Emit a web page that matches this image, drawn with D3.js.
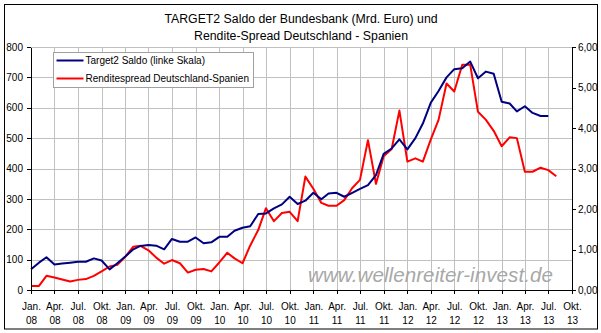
<!DOCTYPE html>
<html>
<head>
<meta charset="utf-8">
<script src="https://cdn.jsdelivr.net/npm/d3@7"></script>
<style>
  html, body { margin: 0; padding: 0; background: #fff; }
  svg { display: block; font-family: "Liberation Sans", Arial, sans-serif; }
</style>
</head>
<body>
<svg id="chart" width="601" height="333"></svg>
<script>
// Monthly observations, Jan 2008 onwards
const months = [
  "2008-01","2008-02","2008-03","2008-04","2008-05","2008-06","2008-07","2008-08","2008-09","2008-10","2008-11","2008-12",
  "2009-01","2009-02","2009-03","2009-04","2009-05","2009-06","2009-07","2009-08","2009-09","2009-10","2009-11","2009-12",
  "2010-01","2010-02","2010-03","2010-04","2010-05","2010-06","2010-07","2010-08","2010-09","2010-10","2010-11","2010-12",
  "2011-01","2011-02","2011-03","2011-04","2011-05","2011-06","2011-07","2011-08","2011-09","2011-10","2011-11","2011-12",
  "2012-01","2012-02","2012-03","2012-04","2012-05","2012-06","2012-07","2012-08","2012-09","2012-10","2012-11","2012-12",
  "2013-01","2013-02","2013-03","2013-04","2013-05","2013-06","2013-07","2013-08"
];

// TARGET2 balance of the Bundesbank, bn EUR (left scale)
const target2Saldo = [
  68, 90, 108, 84, 87, 90, 93, 93, 104, 97, 68, 88,
  110, 134, 145, 148, 146, 134, 168, 159, 159, 173, 154, 157,
  175, 175, 195, 205, 210, 250, 252, 269, 282, 307, 283, 294,
  320, 299, 318, 320, 307, 320, 333, 345, 378, 448, 466, 496,
  463, 500, 548, 617, 655, 700, 727, 730, 752, 697, 719, 712,
  620, 614, 588, 605, 583, 573, 573
];

// Yield spread Germany - Spain, percentage points (right scale)
const renditeSpread = [
  0.10, 0.10, 0.35, 0.31, 0.26, 0.21, 0.25, 0.27, 0.35, 0.46, 0.58, 0.62,
  0.82, 1.07, 1.09, 0.98, 0.80, 0.65, 0.74, 0.66, 0.43, 0.50, 0.52, 0.46,
  0.68, 0.92, 0.78, 0.66, 1.10, 1.48, 2.02, 1.70, 1.90, 1.93, 1.70, 2.80,
  2.50, 2.15, 2.08, 2.08, 2.22, 2.52, 2.72, 3.70, 2.62, 3.30, 3.48, 4.43,
  3.17, 3.25, 3.17, 3.72, 4.20, 5.10, 4.90, 5.56, 5.56, 4.40, 4.20, 3.93,
  3.55, 3.77, 3.75, 2.92, 2.92, 3.02, 2.96, 2.81
];

const leftTicks = [0, 100, 200, 300, 400, 500, 600, 700, 800];
const rightTicks = [0, 1, 2, 3, 4, 5, 6];
const quarterNames = ["Jan.", "Apr.", "Jul.", "Okt."];
const axisStart = "2008-01";
const axisEnd = "2013-10";

const titleLines = [
  "TARGET2 Saldo der Bundesbank (Mrd. Euro) und",
  "Rendite-Spread Deutschland - Spanien"
];
const legendLabels = ["Target2 Saldo (linke Skala)", "Renditespread Deutschland-Spanien"];
const watermark = "www.wellenreiter-invest.de";

const parse = d3.timeParse("%Y-%m");
const svg = d3.select("#chart");

const plot = { left: 31, right: 572, top: 47, bottom: 290 };

const x = d3.scaleTime()
  .domain([parse(axisStart), parse(axisEnd)])
  .range([plot.left, plot.right]);
const yL = d3.scaleLinear().domain([0, 800]).range([plot.bottom, plot.top]);
const yR = d3.scaleLinear().domain([0, 6]).range([plot.bottom, plot.top]);

const quarterTicks = d3.timeMonth.every(3).range(parse(axisStart), d3.timeMonth.offset(parse(axisEnd), 1));

// outer frame
svg.append("rect")
  .attr("x", 4.5).attr("y", 4.5).attr("width", 593).attr("height", 324.5)
  .attr("fill", "#fff").attr("stroke", "#000").attr("stroke-width", 1);

// title
svg.append("g").selectAll("text").data(titleLines).join("text")
  .attr("x", 301).attr("y", (d, i) => 23 + i * 17)
  .attr("text-anchor", "middle")
  .attr("font-size", "12.3px")
  .attr("fill", "#000")
  .text(d => d);

// gridlines
const grid = svg.append("g").attr("stroke", "#c0c0c0").attr("stroke-width", 1).attr("shape-rendering", "crispEdges");
grid.selectAll("line.h").data(leftTicks.filter(d => d > 0)).join("line")
  .attr("x1", plot.left).attr("x2", plot.right)
  .attr("y1", d => Math.round(yL(d)) + 0.5).attr("y2", d => Math.round(yL(d)) + 0.5);
grid.selectAll("line.v").data(quarterTicks.slice(1, -1)).join("line")
  .attr("x1", d => Math.round(x(d)) + 0.5).attr("x2", d => Math.round(x(d)) + 0.5)
  .attr("y1", plot.top).attr("y2", plot.bottom);

// watermark
svg.append("text")
  .attr("x", 308).attr("y", 282)
  .attr("font-size", "20.6px")
  .attr("font-style", "italic")
  .attr("fill", "#a8a8a8")
  .attr("textLength", 245)
  .text(watermark);

// series
const line = (scale, values) => d3.line()
  .x((d, i) => x(parse(months[i])))
  .y(d => scale(d))(values);

svg.append("path")
  .attr("d", line(yR, renditeSpread))
  .attr("fill", "none").attr("stroke", "#ff0000").attr("stroke-width", 2)
  .attr("stroke-linejoin", "round");
svg.append("path")
  .attr("d", line(yL, target2Saldo))
  .attr("fill", "none").attr("stroke", "#000080").attr("stroke-width", 2)
  .attr("stroke-linejoin", "round");

// axes
function styleAxis(g) {
  g.selectAll("path.domain").attr("stroke", "#000").attr("shape-rendering", "crispEdges");
  g.selectAll(".tick line").attr("stroke", "#000").attr("shape-rendering", "crispEdges");
  g.selectAll(".tick text").attr("fill", "#000").attr("font-size", "10px")
    .attr("font-family", "'Liberation Sans', Arial, sans-serif");
}

svg.append("g")
  .attr("transform", `translate(${plot.left},0)`)
  .call(d3.axisLeft(yL).tickValues(leftTicks).tickSize(4).tickSizeOuter(0).tickPadding(4))
  .call(styleAxis);

svg.append("g")
  .attr("transform", `translate(${plot.right},0)`)
  .call(d3.axisRight(yR).tickValues(rightTicks).tickSize(4).tickSizeOuter(0).tickPadding(2)
    .tickFormat(d => d3.format(".2f")(d).replace(".", ",")))
  .call(styleAxis);

const xAxis = svg.append("g")
  .attr("transform", `translate(0,${plot.bottom})`)
  .call(d3.axisBottom(x).tickValues(quarterTicks).tickSize(4).tickSizeOuter(0).tickFormat(""))
  .call(styleAxis);

xAxis.selectAll(".tick").each(function (d) {
  const t = d3.select(this).select("text");
  t.attr("y", 0).attr("dy", null);
  t.append("tspan").attr("x", 0).attr("y", 19.5).text(quarterNames[Math.floor(d.getMonth() / 3)]);
  t.append("tspan").attr("x", 0).attr("y", 33.5).text(d3.timeFormat("%y")(d));
});

// legend
const legend = svg.append("g").attr("transform", "translate(53.5,52.5)");
legend.append("rect").attr("width", 200).attr("height", 35)
  .attr("fill", "#fff").attr("stroke", "#a0a0a0").attr("stroke-width", 1);
const legendColors = ["#000080", "#ff0000"];
legend.selectAll("g.item").data(legendLabels).join("g")
  .attr("transform", (d, i) => `translate(0,${8 + i * 18})`)
  .each(function (d, i) {
    const g = d3.select(this);
    g.append("line").attr("x1", 3).attr("x2", 30).attr("y1", 0).attr("y2", 0)
      .attr("stroke", legendColors[i]).attr("stroke-width", 2);
    g.append("text").attr("x", 32).attr("y", 3.5)
      .attr("font-size", "10px").attr("fill", "#000").text(d);
  });
</script>
</body>
</html>
